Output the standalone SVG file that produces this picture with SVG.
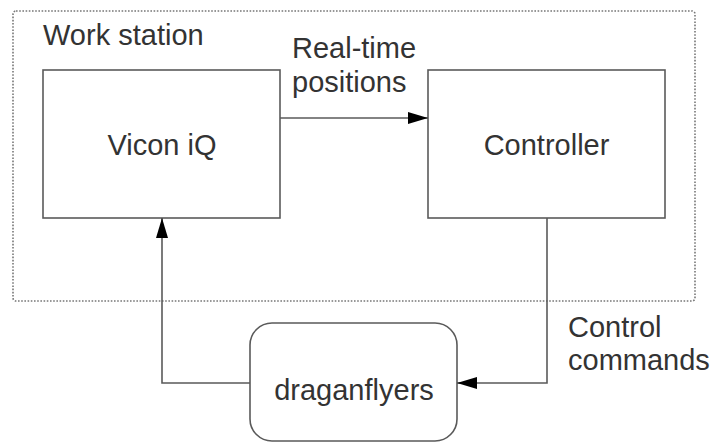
<svg xmlns="http://www.w3.org/2000/svg" width="714" height="443" viewBox="0 0 714 443">
<style>
.box{fill:#fff;stroke:#5a5a5a;stroke-width:1.6}
.frame{fill:none;stroke:#777;stroke-width:1.6;stroke-dasharray:1.6 1.6}
.t{font-family:"Liberation Sans",Arial,sans-serif;font-size:29px;fill:#333}
.c{stroke:#5a5a5a;stroke-width:1.6;fill:none}
</style>
<defs>
<marker id="arr" markerWidth="20" markerHeight="12" refX="20" refY="6" orient="auto" markerUnits="userSpaceOnUse">
<path d="M0,0 L20,6 L0,12 Z" fill="#000"/>
</marker>
</defs>
<rect width="714" height="443" fill="#fff"/>
<g id="workstation">
<rect class="frame" x="13" y="11" width="682" height="290" rx="3"/>
<text class="t" x="43" y="45">Work station</text>
</g>
<g id="vicon">
<rect class="box" x="43" y="70" width="237" height="148"/>
<text class="t" x="162" y="155" text-anchor="middle">Vicon iQ</text>
</g>
<g id="controller">
<rect class="box" x="428" y="70" width="237" height="148"/>
<text class="t" x="546.5" y="155" text-anchor="middle">Controller</text>
</g>
<g id="draganflyers">
<rect class="box" x="250" y="323" width="207" height="118" rx="22"/>
<text class="t" x="354" y="400" text-anchor="middle">draganflyers</text>
</g>
<g id="connectors">
<path class="c" d="M280,118 H428" marker-end="url(#arr)"/>
<path class="c" d="M547,218 V383 H457" marker-end="url(#arr)"/>
<path class="c" d="M250,383 H162 V218" marker-end="url(#arr)"/>
<text class="t" x="292" y="58">Real-time</text>
<text class="t" x="292" y="92">positions</text>
<text class="t" x="568" y="337">Control</text>
<text class="t" x="568" y="370">commands</text>
</g>
</svg>
